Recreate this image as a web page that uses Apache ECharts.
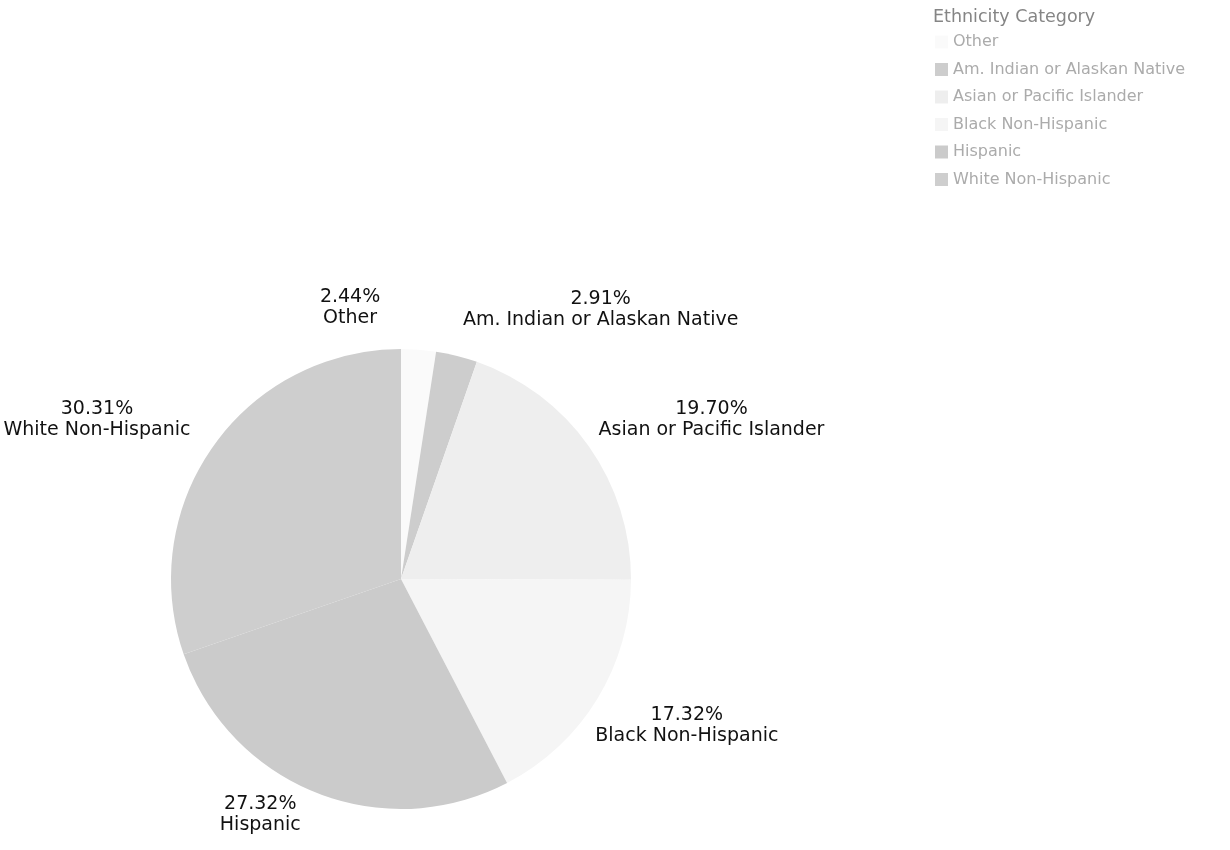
<!DOCTYPE html>
<html>
<head>
<meta charset="utf-8">
<script src="https://cdn.jsdelivr.net/npm/echarts@6/dist/echarts.min.js"></script>
<style>
html, body { margin: 0; padding: 0; background: #fff; }
#chart { width: 1230px; height: 850px; }
</style>
</head>
<body>
<div id="chart"></div>
<script>
// ethnicity shares, in %
var categories = ['Other', 'Am. Indian or Alaskan Native', 'Asian or Pacific Islander', 'Black Non-Hispanic', 'Hispanic', 'White Non-Hispanic'];
var shares = [2.44, 2.91, 19.70, 17.32, 27.32, 30.31];
var sliceColors = ['#fafafa', '#cdcdcd', '#eeeeee', '#f5f5f5', '#cbcbcb', '#cecece'];
// small label nudges so the text sits where the original tool put it
var labelNudge = [[-77, 3], [128, -3], [81, -1], [46, 3], [-34, -20], [-75, 0]];

var myChart = echarts.init(document.getElementById('chart'));

var pieData = categories.map(function(name, i) {
	return { name: name, value: shares[i], itemStyle: { color: sliceColors[i] } };
});

var option = {
	animation: false,
	textStyle: { fontFamily: 'DejaVu Sans, Verdana, sans-serif' },
	title: {
		text: 'Ethnicity Category',
		left: 933,
		top: 8,
		padding: 0,
		textStyle: { color: '#858585', fontSize: 17.5, fontWeight: 'normal' }
	},
	legend: {
		orient: 'vertical',
		left: 935,
		top: 34,
		padding: 0,
		icon: 'rect',
		itemWidth: 13,
		itemHeight: 13,
		itemGap: 11.5,
		data: categories,
		textStyle: { color: '#ababab', fontSize: 16 }
	},
	series: [{
		type: 'pie',
		center: [401, 579],
		radius: 230,
		startAngle: 90,
		clockwise: true,
		avoidLabelOverlap: false,
		label: {
			position: 'outside',
			color: '#111',
			fontSize: 19,
			lineHeight: 21,
			formatter: function(p) {
				return p.value.toFixed(2) + '%\n' + p.name;
			}
		},
		labelLine: { show: false, length: 45, length2: 0 },
		labelLayout: function(p) {
			var n = labelNudge[p.dataIndex];
			return { align: 'center', verticalAlign: 'middle', dx: n[0], dy: n[1] };
		},
		emphasis: { disabled: true },
		data: pieData
	}]
};
myChart.setOption(option);
</script>
</body>
</html>
